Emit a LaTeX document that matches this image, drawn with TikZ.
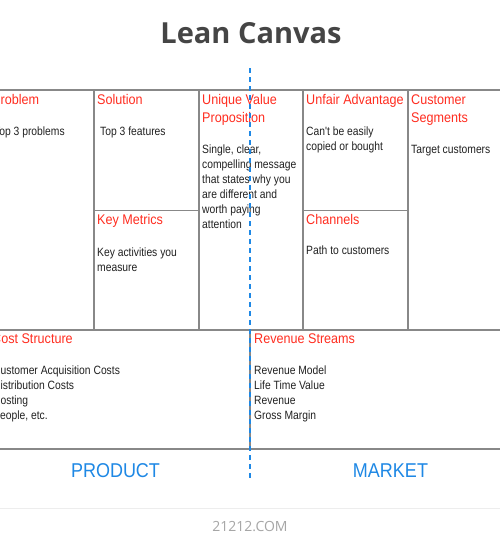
\documentclass[tikz,border=0pt]{standalone}
\usepackage{fontspec}
\setmainfont{Liberation Sans}
\newfontfamily\titlefont{Open Sans}
\newfontfamily\labelfont[FakeStretch=0.9]{Liberation Sans}
\newfontfamily\bodyfont[FakeStretch=0.86]{Liberation Sans}
\definecolor{cellred}{HTML}{FF2D20}
\definecolor{sideblue}{HTML}{1E88E5}
\definecolor{gridgray}{HTML}{888888}
\tikzset{
  grid line/.style={draw=gridgray, line width=1.5pt},
  cell title/.style={anchor=base west, inner sep=0pt, align=left, text=cellred,
    font=\labelfont\fontsize{14}{18}\selectfont},
  cell text/.style={anchor=base west, inner sep=0pt, align=left, text=black!87,
    font=\bodyfont\fontsize{12}{15}\selectfont},
  side label/.style={anchor=base, inner sep=0pt, text=sideblue,
    font=\labelfont\fontsize{20}{24}\selectfont},
}

\begin{document}
\begin{tikzpicture}[x=1pt,y=-1pt]
		\useasboundingbox (0,0) rectangle (500,550);
		\clip (0,0) rectangle (500,550);
		\fill[white] (0,0) rectangle (500,550);

		% title
		\node[anchor=base, inner sep=0pt, text=black!73,
			font=\titlefont\bfseries\fontsize{29}{35}\selectfont] (title) at (251,43) {Lean Canvas};

		% grid
		\begin{scope}[grid line]
			\draw (-20,90) -- (520,90);
			\draw (-20,330) -- (520,330);
			\draw (-20,449) -- (520,449);
			\foreach \x in {94,199,303,408}
				\draw (\x,90) -- (\x,330);
			\draw (94,210.5) -- (199,210.5);
			\draw (303,210.5) -- (408,210.5);
			\draw (250,330) -- (250,449);
		\end{scope}

		% cell titles (multi-line ones sit on their last baseline)
		\begin{scope}[every node/.style={cell title}]
			\node (problem) at (-8,104) {Problem};
			\node (solution) at (97,104) {Solution};
			\node (metrics) at (97,224) {Key Metrics};
			\node (uvp) at (202,122) {Unique Value\\Proposition};
			\node (unfair) at (306,104) {Unfair Advantage};
			\node (channels) at (306,224) {Channels};
			\node (segments) at (411,122) {Customer\\Segments};
			\node (cost) at (-8,343) {Cost Structure};
			\node (revenue) at (254,343) {Revenue Streams};
		\end{scope}

		% cell texts
		\begin{scope}[every node/.style={cell text}]
			\node (problem text) at (-6,135) {Top 3 problems};
			\node (solution text) at (100,135) {Top 3 features};
			\node (metrics text) at (97,271) {Key activities you\\measure};
			\node (uvp text) at (202,228) {Single, clear,\\compelling message\\that states why you\\are different and\\worth paying\\attention};
			\node (unfair text) at (306,150) {Can't be easily\\copied or bought};
			\node (channels text) at (306,254) {Path to customers};
			\node (segments text) at (411,153) {Target customers};
			\node (cost text) at (-7,419) {Customer Acquisition Costs\\Distribution Costs\\Hosting\\People, etc.};
			\node (revenue text) at (254,419) {Revenue Model\\Life Time Value\\Revenue\\Gross Margin};
		\end{scope}

		% product / market
		\node[side label] (product) at (115.5,477) {PRODUCT};
		\node[side label] (market) at (390.5,477) {MARKET};

		% footer
		\draw[draw=black!7, line width=1pt] (-20,508) -- (520,508);
		\node[anchor=base, inner sep=0pt, text=black!35,
			font=\titlefont\fontsize{14}{16}\selectfont] (site) at (250,531) {21212.COM};

		% split line
		\draw[sideblue, line width=2.5pt, dash pattern=on 5pt off 4pt] (250,68) -- (250,481);
	\end{tikzpicture}
\end{document}
